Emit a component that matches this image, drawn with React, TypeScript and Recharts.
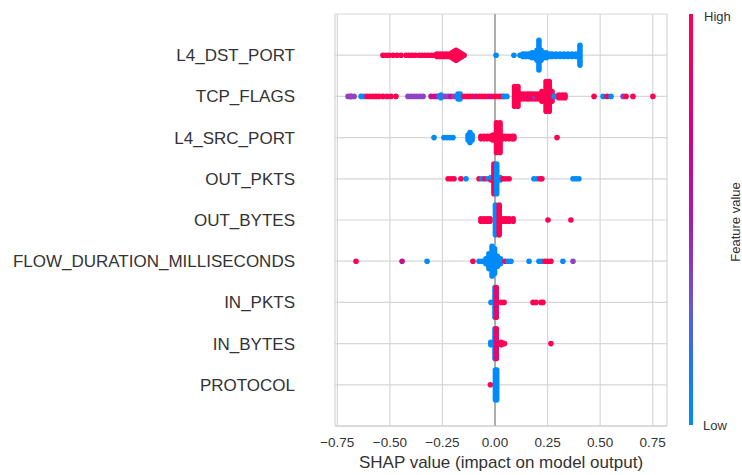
import React from "react";
import { ScatterChart, Scatter, XAxis, YAxis, CartesianGrid, ReferenceLine, Label } from "recharts";

const FEATURES = [
  "L4_DST_PORT",
  "TCP_FLAGS",
  "L4_SRC_PORT",
  "OUT_PKTS",
  "OUT_BYTES",
  "FLOW_DURATION_MILLISECONDS",
  "IN_PKTS",
  "IN_BYTES",
  "PROTOCOL",
];
const X_TICKS = [-0.75, -0.5, -0.25, 0, 0.25, 0.5, 0.75];

// a pile = [shap value, how many dots are stacked there, colour keys cycled up the stack]
type Pile = [number, number, string];

const L4_DST_PORT: Pile[] = [
  [-0.533, 1, "r"], [-0.518, 1, "r"], [-0.504, 1, "r"], [-0.485, 1, "r"], [-0.466, 1, "r"], [-0.447, 1, "r"],
  [-0.423, 1, "r"], [-0.409, 1, "r"], [-0.395, 1, "r"], [-0.38, 1, "r"],
  [-0.361, 1, "r"], [-0.347, 1, "r"], [-0.333, 1, "r"], [-0.319, 1, "r"], [-0.304, 1, "r"], [-0.29, 1, "r"],
  [-0.276, 2, "r"], [-0.262, 2, "r"], [-0.247, 2, "r"], [-0.233, 2, "r"], [-0.219, 2, "r"], [-0.204, 3, "r"],
  [-0.195, 4, "r"], [-0.185, 5, "r"], [-0.176, 4, "r"], [-0.166, 3, "r"], [-0.157, 2, "r"], [-0.147, 1, "r"],
  [0.005, 1, "b"], [0.09, 1, "b"], [0.119, 1, "b"], [0.133, 2, "b"], [0.147, 2, "b"], [0.162, 2, "b"],
  [0.176, 3, "b"], [0.19, 3, "b"], [0.2, 5, "b"], [0.209, 13, "b"], [0.219, 5, "b"], [0.228, 3, "b"],
  [0.243, 3, "b"], [0.257, 2, "b"], [0.271, 2, "b"], [0.29, 2, "b"], [0.309, 2, "b"], [0.328, 2, "b"],
  [0.347, 2, "b"], [0.366, 2, "b"], [0.385, 2, "b"], [0.404, 9, "b"],
];

const TCP_FLAGS: Pile[] = [
  [-0.699, 1, "p"], [-0.685, 1, "r"], [-0.685, 1, "p"], [-0.67, 1, "p"], [-0.637, 1, "b"], [-0.623, 1, "b"],
  [-0.609, 1, "r"], [-0.594, 1, "r"], [-0.58, 1, "r"], [-0.566, 1, "r"], [-0.552, 1, "r"],
  [-0.533, 1, "r"], [-0.514, 1, "r"], [-0.495, 1, "r"], [-0.471, 1, "r"],
  [-0.414, 1, "p"], [-0.399, 1, "p"], [-0.385, 1, "p"], [-0.371, 1, "p"], [-0.357, 1, "p"], [-0.342, 1, "p"],
  [-0.304, 1, "m"], [-0.29, 1, "m"], [-0.276, 1, "m"], [-0.266, 1, "p"], [-0.257, 2, "b"],
  [-0.238, 1, "p"], [-0.223, 1, "p"], [-0.209, 1, "m"], [-0.195, 1, "p"],
  [-0.176, 3, "b"], [-0.166, 3, "b"],
  [-0.147, 1, "r"], [-0.133, 1, "r"], [-0.119, 1, "r"], [-0.105, 1, "r"], [-0.09, 1, "m"], [-0.076, 1, "r"],
  [-0.062, 1, "r"], [-0.048, 1, "r"], [-0.033, 1, "r"], [-0.019, 1, "m"], [-0.005, 1, "r"], [0.01, 1, "r"],
  [0.024, 1, "r"], [0.038, 1, "r"], [0.043, 1, "b"], [0.057, 1, "b"],
  [0.093, 9, "r"], [0.109, 9, "r"],
  [0.124, 3, "r"], [0.138, 3, "r"], [0.152, 3, "r"], [0.162, 3, "rm"], [0.176, 3, "r"], [0.19, 3, "rp"], [0.204, 3, "r"],
  [0.223, 5, "r"], [0.243, 13, "r"], [0.258, 13, "r"], [0.271, 5, "r"],
  [0.281, 1, "b"], [0.29, 1, "b"], [0.304, 2, "r"], [0.319, 2, "r"], [0.333, 2, "r"],
  [0.471, 1, "r"], [0.514, 1, "b"], [0.533, 1, "r"], [0.552, 1, "b"], [0.609, 1, "p"], [0.623, 1, "r"],
  [0.656, 1, "r"], [0.751, 1, "r"],
];

const L4_SRC_PORT: Pile[] = [
  [-0.29, 1, "b"], [-0.243, 1, "b"], [-0.228, 1, "b"], [-0.214, 1, "b"], [-0.2, 1, "b"],
  [-0.128, 3, "b"], [-0.119, 5, "b"], [-0.109, 3, "b"],
  [-0.067, 2, "r"], [-0.052, 2, "r"], [-0.038, 2, "r"], [-0.024, 2, "r"], [-0.01, 3, "r"],
  [0.007, 13, "r"], [0.024, 13, "r"],
  [0.038, 2, "r"], [0.052, 2, "r"], [0.067, 2, "r"], [0.081, 2, "r"], [0.09, 2, "r"],
  [0.295, 1, "r"],
];

const OUT_PKTS: Pile[] = [
  [-0.223, 1, "r"], [-0.209, 1, "r"], [-0.195, 1, "r"], [-0.162, 1, "r"], [-0.138, 1, "b"],
  [-0.076, 1, "r"], [-0.062, 1, "b"], [-0.048, 1, "r"], [-0.033, 1, "b"], [-0.019, 2, "rb"],
  [-0.005, 13, "r"], [0.008, 13, "b"],
  [0.024, 2, "b"], [0.038, 1, "r"], [0.052, 1, "r"], [0.067, 1, "r"],
  [0.185, 1, "b"], [0.2, 1, "b"], [0.214, 1, "r"], [0.223, 1, "r"],
  [0.371, 1, "b"], [0.385, 1, "b"], [0.399, 1, "b"],
];

const OUT_BYTES: Pile[] = [
  [-0.067, 2, "r"], [-0.052, 2, "r"], [-0.038, 2, "r"], [-0.024, 2, "r"],
  [0.002, 13, "b"], [0.02, 13, "r"],
  [0.038, 2, "r"], [0.052, 2, "r"], [0.067, 2, "r"], [0.086, 2, "r"],
  [0.252, 1, "r"], [0.361, 1, "r"],
];

const FLOW_DURATION_MILLISECONDS: Pile[] = [
  [-0.661, 1, "r"], [-0.442, 1, "m"], [-0.323, 1, "b"],
  [-0.105, 1, "r"], [-0.076, 1, "b"], [-0.062, 1, "b"],
  [-0.043, 3, "b"], [-0.029, 7, "b"], [-0.014, 13, "b"], [-0.002, 11, "b"], [0.012, 5, "b"], [0.026, 3, "b"],
  [0.048, 1, "r"], [0.062, 1, "b"], [0.076, 1, "b"],
  [0.162, 1, "b"], [0.209, 1, "b"], [0.223, 1, "b"], [0.238, 1, "r"], [0.252, 1, "r"], [0.266, 1, "r"],
  [0.323, 1, "b"], [0.371, 1, "p"],
];

const IN_PKTS: Pile[] = [
  [-0.019, 1, "b"], [0, 13, "b"], [0.006, 13, "rm"], [0.029, 1, "r"], [0.043, 1, "r"],
  [0.181, 1, "r"], [0.195, 1, "r"], [0.219, 1, "r"], [0.228, 1, "r"],
];

const IN_BYTES: Pile[] = [
  [-0.02, 2, "b"], [0, 13, "b"], [0.006, 13, "rm"], [0.03, 2, "r"], [0.045, 1, "r"],
  [0.266, 1, "r"],
];

const PROTOCOL: Pile[] = [
  [-0.022, 1, "r"], [0.002, 13, "b"], [0.008, 13, "b"],
];

const PILES = [L4_DST_PORT, TCP_FLAGS, L4_SRC_PORT, OUT_PKTS, OUT_BYTES, FLOW_DURATION_MILLISECONDS, IN_PKTS, IN_BYTES, PROTOCOL];

const COLORS: Record<string, string> = { r: "#ff0052", b: "#008bfb", p: "#8e44c4", m: "#c5108f" };
const STEP = 0.06; // vertical gap between stacked dots, in row units
const FONT = "'Liberation Sans', Arial, sans-serif";

// stack each pile's dots around its row, beeswarm style
function buildRow(piles: Pile[], row: number) {
  const pts: { x: number; y: number; color: string }[] = [];
  piles.forEach(([v, n, cols]) => {
    for (let k = 0; k < n; k++) {
      pts.push({ x: v, y: row + (k - (n - 1) / 2) * STEP, color: COLORS[cols[k % cols.length]] });
    }
  });
  return pts;
}

const Dot = (props: any) => <circle cx={props.cx} cy={props.cy} r={2.8} fill={props.payload.color} />;

const fmt = (v: number) => (v < 0 ? "\u2212" : "") + Math.abs(v).toFixed(2);

export default function App() {
  const n = FEATURES.length;
  return (
    <div style={{ position: "absolute", left: 0, top: 0, width: 742, height: 475, background: "#fff", fontFamily: FONT }}>
      <ScatterChart width={742} height={475} margin={{ top: 14, right: 75, bottom: 0, left: 0 }}>
        <CartesianGrid stroke="#d6d6d6" strokeWidth={1.2} />
        <XAxis
          type="number"
          dataKey="x"
          domain={[-0.761, 0.818]}
          ticks={X_TICKS}
          tickFormatter={fmt}
          tickLine={false}
          tickSize={0}
          tickMargin={11}
          height={49}
          axisLine={{ stroke: "#cccccc", strokeWidth: 1.2 }}
          tick={{ fontSize: 13.5, fill: "#333", fontFamily: FONT }}
        >
          <Label value="SHAP value (impact on model output)" position="insideBottom" offset={7} fontSize={17} fill="#333" fontFamily={FONT} />
        </XAxis>
        <YAxis
          type="number"
          dataKey="y"
          domain={[-1, n]}
          ticks={FEATURES.map((_, i) => i)}
          tickFormatter={(v: number) => FEATURES[n - 1 - v]}
          width={335}
          axisLine={false}
          tickLine={false}
          tickSize={0}
          tickMargin={40}
          tick={{ fontSize: 17, fill: "#333", fontFamily: FONT }}
        />
        <ReferenceLine x={0} stroke="#a0a0a0" strokeWidth={1.6} />
        {FEATURES.map((f, i) => (
          <Scatter key={f} data={buildRow(PILES[i], n - 1 - i)} shape={Dot} isAnimationActive={false} />
        ))}
      </ScatterChart>
      <svg width={742} height={475} style={{ position: "absolute", left: 0, top: 0, pointerEvents: "none" }}>
        <defs>
          <linearGradient id="cbar" x1="0" y1="0" x2="0" y2="1">
            <stop offset="0%" stopColor="#ff0052" />
            <stop offset="30%" stopColor="#d5007f" />
            <stop offset="50%" stopColor="#a81ab0" />
            <stop offset="70%" stopColor="#6b55d6" />
            <stop offset="85%" stopColor="#1f78f0" />
            <stop offset="100%" stopColor="#008bfb" />
          </linearGradient>
        </defs>
        <rect x={689} y={14} width={4} height={411} fill="url(#cbar)" />
        <text x={704} y={21} fontSize={13} fill="#333" fontFamily={FONT}>High</text>
        <text x={703} y={430} fontSize={13} fill="#333" fontFamily={FONT}>Low</text>
        <text x={739.5} y={222} fontSize={13} fill="#333" fontFamily={FONT} textAnchor="middle" transform="rotate(-90 739.5 222)">
          Feature value
        </text>
      </svg>
    </div>
  );
}
